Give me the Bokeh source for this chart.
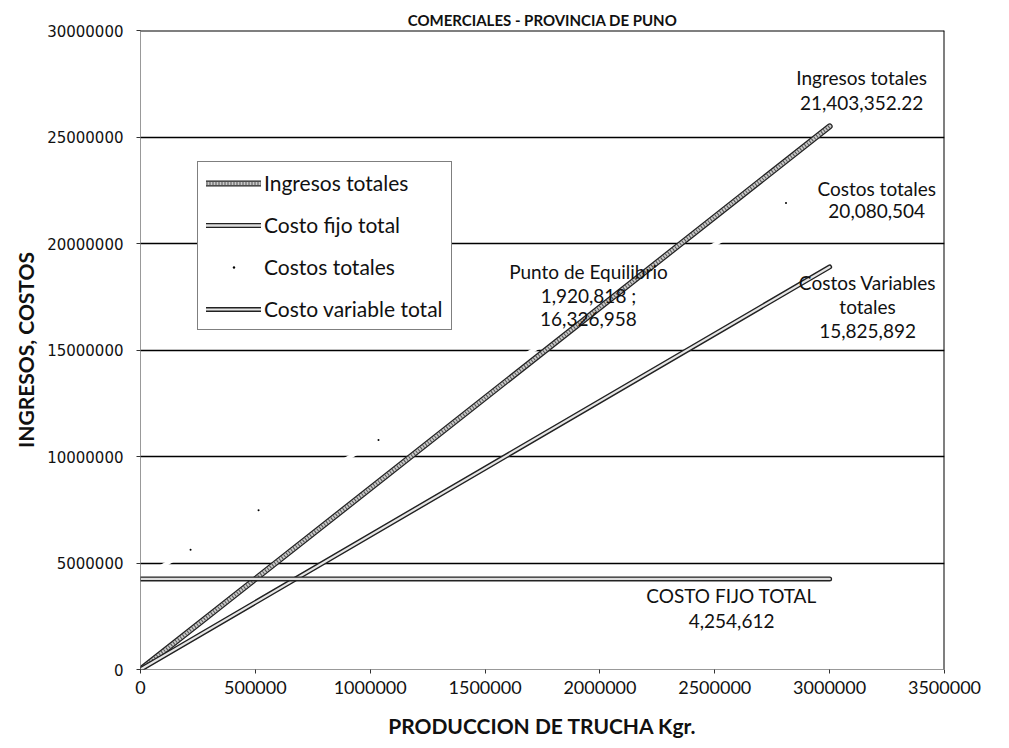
from bokeh.plotting import figure
from bokeh.models import (Label, Legend, LegendItem, Span, FixedTicker,
                          NumeralTickFormatter)
from bokeh.embed import file_html
from bokeh.resources import INLINE

# ---- data ----
produccion = [0, 3000000]
ingresos_totales = [0, 25500000]
costo_fijo_total = [4254612, 4254612]
costo_variable_total = [0, 18900000]
costos_totales = [4254612, 23100000]
# stray marker dots of the "Costos totales" series
ct_dot_x = [218000, 514000, 1036000, 2810000]
ct_dot_y = [5620000, 7480000, 10770000, 21900000]

x_ticks = [0, 500000, 1000000, 1500000, 2000000, 2500000, 3000000, 3500000]
y_ticks = [0, 5000000, 10000000, 15000000, 20000000, 25000000, 30000000]
grid_ticks = [5000000, 10000000, 15000000, 20000000, 25000000]

title_text = "COMERCIALES - PROVINCIA DE PUNO"
x_title = "PRODUCCION DE TRUCHA Kgr."
y_title = "INGRESOS, COSTOS"

# annotations: (text, x, y)
notes = [
    ("Ingresos totales", 3139000, 27800000),
    ("21,403,352.22", 3139000, 26590000),
    ("Costos totales", 3205000, 22570000),
    ("20,080,504", 3205000, 21540000),
    ("Punto de Equilibrio", 1950000, 18690000),
    ("1,920,818 ;", 1950000, 17570000),
    ("16,326,958", 1950000, 16450000),
    ("Costos Variables", 3165000, 18180000),
    ("totales", 3165000, 17060000),
    ("15,825,892", 3165000, 15890000),
    ("COSTO FIJO TOTAL", 2573000, 3458000),
    ("4,254,612", 2573000, 2290000),
]

FONT = "Lato"

p = figure(width=1001, height=740, x_range=(0, 3500000), y_range=(0, 30000000),
           output_backend="svg", toolbar_location=None,
           min_border_left=140, min_border_right=57,
           min_border_top=30, min_border_bottom=61)
p.outline_line_color = None
p.background_fill_color = "white"
p.border_fill_color = "white"

# title above the frame
p.title.text = title_text
p.title.align = "center"
p.title.text_font = FONT
p.title.text_font_style = "bold"
p.title.text_font_size = "15px"
p.title.text_color = "#111111"
p.title.offset = 0
p.title.standoff = 4

# axes
p.xaxis.ticker = FixedTicker(ticks=x_ticks)
p.yaxis.ticker = FixedTicker(ticks=y_ticks)
p.xaxis.formatter = NumeralTickFormatter(format="0")
p.yaxis.formatter = NumeralTickFormatter(format="0")
for ax in (p.xaxis, p.yaxis):
    ax.axis_line_color = "#333333"
    ax.axis_line_dash = "1 1"
    ax.axis_line_width = 1
    ax.major_tick_line_color = "#333333"
    ax.major_tick_out = 4
    ax.major_tick_in = 0
    ax.minor_tick_line_color = None
    ax.axis_label_text_font = FONT
    ax.axis_label_text_font_style = "bold"
    ax.axis_label_text_font_size = "21px"
    ax.axis_label_text_color = "#111111"
    ax.major_label_text_color = "#111111"
p.yaxis.major_label_text_font = "DejaVu Sans"
p.yaxis.major_label_text_font_size = "15px"
p.yaxis.major_label_standoff = 13
p.yaxis.axis_label = y_title
p.yaxis.axis_label_standoff = 6
p.xaxis.major_label_text_font = FONT
p.xaxis.major_label_text_font_size = "18px"
p.xaxis.major_label_standoff = 7
p.xaxis.axis_label = x_title
p.xaxis.axis_label_standoff = 16

# grid
p.xgrid.visible = False
p.ygrid.ticker = FixedTicker(ticks=grid_ticks)
p.ygrid.grid_line_color = "black"
p.ygrid.grid_line_width = 1.7

p.add_layout(Span(location=30000000, dimension="width", line_color="black", line_width=2))
p.add_layout(Span(location=3500000, dimension="height", line_color="black", line_width=2))

# series
r_ct = p.line(produccion, costos_totales, line_color="white", line_width=4)
r_ct_dots = p.scatter(ct_dot_x, ct_dot_y, marker="dot", size=8, color="black")

r_i1 = p.line(produccion, ingresos_totales, line_color="#222222", line_width=6, line_cap="round")
r_i2 = p.line(produccion, ingresos_totales, line_color="#c8c8c8", line_width=3.5, line_cap="round")
r_i3 = p.line(produccion, ingresos_totales, line_color="#555555", line_width=3.5, line_dash="1 2")

r_v1 = p.line(produccion, costo_variable_total, line_color="#222222", line_width=5, line_cap="round")
r_v2 = p.line(produccion, costo_variable_total, line_color="#e6e6e6", line_width=2.2, line_cap="round")

r_f1 = p.line(produccion, costo_fijo_total, line_color="#222222", line_width=5, line_cap="round")
r_f2 = p.line(produccion, costo_fijo_total, line_color="#dddddd", line_width=2.4, line_cap="round")

legend = Legend(items=[
    LegendItem(label="Ingresos totales", renderers=[r_i1, r_i2, r_i3]),
    LegendItem(label="Costo fijo total", renderers=[r_f1, r_f2]),
    LegendItem(label="Costos totales", renderers=[r_ct, r_ct_dots]),
    LegendItem(label="Costo variable total", renderers=[r_v1, r_v2]),
], location=(57, 339))
legend.border_line_color = "black"
legend.border_line_width = 1.5
legend.background_fill_color = "white"
legend.background_fill_alpha = 1
legend.label_text_font = FONT
legend.label_text_font_size = "21px"
legend.label_text_color = "#111111"
legend.glyph_width = 55
legend.glyph_height = 24
legend.label_height = 24
legend.spacing = 17
legend.padding = 8
legend.margin = 0
legend.label_standoff = 3
p.add_layout(legend)

for txt, x, y in notes:
    p.add_layout(Label(x=x, y=y, text=txt, text_align="center", text_baseline="middle",
                       text_font=FONT, text_font_size="19px", text_color="#111111"))

open("out.html", "w").write(file_html(p, INLINE))
